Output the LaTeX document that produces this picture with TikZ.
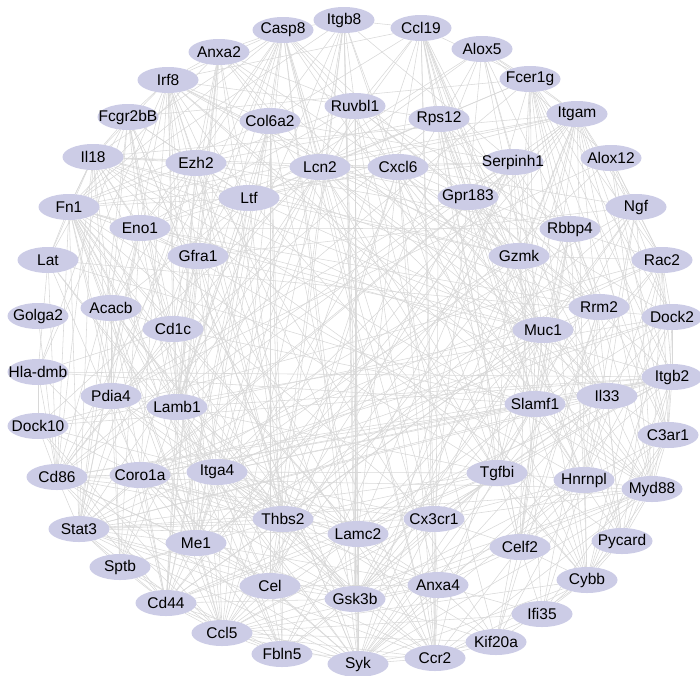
\documentclass[tikz,border=0pt]{standalone}
\usepackage{fontspec}
\setmainfont{Liberation Sans}
\usetikzlibrary{shapes.geometric,backgrounds}

\definecolor{genefill}{RGB}{204,204,230}
\definecolor{linkgray}{RGB}{216,216,216}
\newcommand{\gn}[1]{\makebox[0pt]{#1}}
\tikzset{
  gene/.style={ellipse, fill=genefill, minimum width=61pt, minimum height=26pt,
    inner sep=0pt, font=\fontsize{15.5}{18}\selectfont},
  link/.style={draw=linkgray, line width=0.55pt}
}

\begin{document}
\begin{tikzpicture}[x=1pt,y=-1pt]
  \useasboundingbox (0,0) rectangle (700,675);

  % outer ring, top
  \node[gene] (itgb8)    at (344,20)  {\gn{Itgb8}};
  \node[gene] (ccl19)    at (421,28)  {\gn{Ccl19}};
  \node[gene] (casp8)    at (283,30)  {\gn{Casp8}};
  \node[gene] (alox5)    at (482,49)  {\gn{Alox5}};
  \node[gene] (anxa2)    at (219,52)  {\gn{Anxa2}};
  \node[gene] (fcer1g)   at (530,79)  {\gn{Fcer1g}};
  \node[gene] (irf8)     at (168,80)  {\gn{Irf8}};
  \node[gene] (ruvbl1)   at (355,106) {\gn{Ruvbl1}};
  \node[gene] (col6a2)   at (270,121) {\gn{Col6a2}};
  \node[gene] (rps12)    at (439,119) {\gn{Rps12}};
  \node[gene] (itgam)    at (577,114) {\gn{Itgam}};
  \node[gene] (fcgr2bb)  at (128,117) {\gn{Fcgr2bB}};
  \node[gene] (il18)     at (93,157)  {\gn{Il18}};
  \node[gene] (ezh2)     at (196,163) {\gn{Ezh2}};
  \node[gene] (lcn2)     at (320,167) {\gn{Lcn2}};
  \node[gene] (cxcl6)    at (398,167) {\gn{Cxcl6}};
  \node[gene] (serpinh1) at (513,162) {\gn{Serpinh1}};
  \node[gene] (alox12)   at (611,158) {\gn{Alox12}};
  \node[gene] (ltf)      at (249,198) {\gn{Ltf}};
  \node[gene] (gpr183)   at (468,197) {\gn{Gpr183}};
  \node[gene] (fn1)      at (69,207)  {\gn{Fn1}};
  \node[gene] (eno1)     at (140,228) {\gn{Eno1}};
  \node[gene] (ngf)      at (636,207) {\gn{Ngf}};
  \node[gene] (rbbp4)    at (570,229) {\gn{Rbbp4}};
  \node[gene] (gfra1)    at (198,256) {\gn{Gfra1}};
  \node[gene] (gzmk)     at (519,256) {\gn{Gzmk}};
  \node[gene] (lat)      at (48,260)  {\gn{Lat}};
  \node[gene] (rac2)     at (662,260) {\gn{Rac2}};
  % middle band
  \node[gene] (golga2)   at (38,316)  {\gn{Golga2}};
  \node[gene] (acacb)    at (111,308) {\gn{Acacb}};
  \node[gene] (cd1c)     at (173,329) {\gn{Cd1c}};
  \node[gene] (rrm2)     at (599,307) {\gn{Rrm2}};
  \node[gene] (dock2)    at (672,317) {\gn{Dock2}};
  \node[gene] (muc1)     at (543,330) {\gn{Muc1}};
  \node[gene] (hladmb)   at (38,372)  {\gn{Hla-dmb}};
  \node[gene] (itgb2)    at (672,377) {\gn{Itgb2}};
  \node[gene] (pdia4)    at (111,396) {\gn{Pdia4}};
  \node[gene] (lamb1)    at (177,407) {\gn{Lamb1}};
  \node[gene] (slamf1)   at (535,404) {\gn{Slamf1}};
  \node[gene] (il33)     at (607,396) {\gn{Il33}};
  \node[gene] (dock10)   at (38,426)  {\gn{Dock10}};
  \node[gene] (c3ar1)    at (668,435) {\gn{C3ar1}};
  % lower half
  \node[gene] (cd86)     at (57,477)  {\gn{Cd86}};
  \node[gene] (coro1a)   at (140,475) {\gn{Coro1a}};
  \node[gene] (itga4)    at (217,472) {\gn{Itga4}};
  \node[gene] (tgfbi)    at (497,473) {\gn{Tgfbi}};
  \node[gene] (hnrnpl)   at (584,480) {\gn{Hnrnpl}};
  \node[gene] (myd88)    at (652,489) {\gn{Myd88}};
  \node[gene] (stat3)    at (79,529)  {\gn{Stat3}};
  \node[gene] (thbs2)    at (283,519) {\gn{Thbs2}};
  \node[gene] (lamc2)    at (358,534) {\gn{Lamc2}};
  \node[gene] (cx3cr1)   at (434,519) {\gn{Cx3cr1}};
  \node[gene] (me1)      at (196,543) {\gn{Me1}};
  \node[gene] (celf2)    at (520,547) {\gn{Celf2}};
  \node[gene] (pycard)   at (622,541) {\gn{Pycard}};
  \node[gene] (sptb)     at (120,567) {\gn{Sptb}};
  \node[gene] (cel)      at (270,586) {\gn{Cel}};
  \node[gene] (cybb)     at (587,580) {\gn{Cybb}};
  \node[gene] (cd44)     at (166,603) {\gn{Cd44}};
  \node[gene] (gsk3b)    at (355,599) {\gn{Gsk3b}};
  \node[gene] (anxa4)    at (438,585) {\gn{Anxa4}};
  \node[gene] (ifi35)    at (542,614) {\gn{Ifi35}};
  \node[gene] (ccl5)     at (222,633) {\gn{Ccl5}};
  \node[gene] (fbln5)    at (282,654) {\gn{Fbln5}};
  \node[gene] (syk)      at (358,664) {\gn{Syk}};
  \node[gene] (ccr2)     at (435,658) {\gn{Ccr2}};
  \node[gene] (kif20a)   at (496,642) {\gn{Kif20a}};

  % interactions
  \begin{scope}[on background layer]
  \foreach \t in {fcer1g,itgb2,cybb,syk,cd86,stat3,ccl5,cd44,ccr2,cx3cr1,myd88,c3ar1,rac2,dock2,ltf,lcn2,il18,fn1,coro1a,itga4,gzmk,pycard,ngf,alox5,celf2,tgfbi}
    \draw[link] (itgam) -- (\t);
  \foreach \t in {cybb,syk,cd86,ccl5,cd44,rac2,coro1a,itga4,fcer1g,dock2,myd88,c3ar1,hladmb,slamf1,il33,lamb1,fn1,stat3,casp8,tgfbi,pycard,dock10}
    \draw[link] (itgb2) -- (\t);
  \foreach \t in {stat3,ccl5,cd44,syk,itga4,coro1a,irf8,il18,fn1,hladmb,ccl19,casp8,cx3cr1,ccr2,myd88,slamf1,lat,cd1c,fcer1g,dock10,golga2,pdia4,thbs2,me1}
    \draw[link] (cd86) -- (\t);
  \foreach \t in {ccl5,cd44,syk,fn1,il18,casp8,ezh2,myd88,irf8,ccr2,cx3cr1,gsk3b,muc1,il33,tgfbi,ngf,lcn2,me1,sptb,acacb,eno1,fcgr2bb,cel,thbs2,lamc2,coro1a}
    \draw[link] (stat3) -- (\t);
  \foreach \t in {cd44,ccr2,cx3cr1,syk,ccl19,il18,myd88,casp8,fn1,itga4,coro1a,gzmk,slamf1,fcgr2bb,irf8,lcn2,cybb,thbs2,me1,anxa4,fbln5,cel,kif20a,ifi35}
    \draw[link] (ccl5) -- (\t);
  \foreach \t in {fn1,syk,itga4,muc1,tgfbi,thbs2,lamc2,lamb1,col6a2,gsk3b,sptb,me1,coro1a,anxa2,ezh2,fbln5,cel,acacb,gfra1,serpinh1,ltf}
    \draw[link] (cd44) -- (\t);
  \foreach \t in {fcer1g,cybb,ccr2,cx3cr1,itga4,coro1a,gsk3b,rac2,myd88,lat,fcgr2bb,casp8,irf8,dock2,slamf1,hnrnpl,anxa4,kif20a,lamc2,cel,ruvbl1}
    \draw[link] (syk) -- (\t);
  \foreach \t in {itga4,thbs2,col6a2,lamb1,lamc2,tgfbi,serpinh1,fbln5,eno1,il18,gsk3b,ltf,cx3cr1,muc1,casp8,anxa2,ezh2,gfra1,pdia4,acacb,cd1c,lat,me1}
    \draw[link] (fn1) -- (\t);
  \foreach \t in {cx3cr1,ccl19,il18,myd88,cybb,casp8,lcn2,cxcl6,itga4,irf8,anxa4,gsk3b,celf2,kif20a,ifi35,lamc2,fbln5,ruvbl1,rps12}
    \draw[link] (ccr2) -- (\t);
  \foreach \t in {ccl19,myd88,casp8,itga4,il33,tgfbi,celf2,anxa4,lamc2,gsk3b,cxcl6,gpr183,hnrnpl}
    \draw[link] (cx3cr1) -- (\t);
  \foreach \t in {il18,casp8,irf8,il33,pycard,cybb,fcer1g,c3ar1,rac2,ngf,lcn2,hnrnpl,celf2,muc1,slamf1,gsk3b}
    \draw[link] (myd88) -- (\t);
  \foreach \t in {rac2,fcer1g,dock2,pycard,c3ar1,lcn2,ltf,hnrnpl,celf2,ifi35,kif20a,cxcl6,alox5,rps12,tgfbi}
    \draw[link] (cybb) -- (\t);
  \foreach \t in {il18,pycard,irf8,itgb8,gsk3b,ezh2,ruvbl1,col6a2,lcn2,me1,eno1,anxa2,anxa4,lamb1,cd1c}
    \draw[link] (casp8) -- (\t);
  \foreach \t in {itgb8,cxcl6,gpr183,lcn2,il33,irf8,fcer1g,rps12,col6a2,gzmk,slamf1,muc1,tgfbi,pycard,hnrnpl,celf2}
    \draw[link] (ccl19) -- (\t);
  \foreach \t in {ruvbl1,col6a2,lcn2,itga4,tgfbi,fn1,thbs2,lamc2,gsk3b,cxcl6,serpinh1,lamb1,cel,syk}
    \draw[link] (itgb8) -- (\t);
  \foreach \t in {il18,fcgr2bb,anxa2,ltf,ezh2,col6a2,lcn2,ruvbl1,coro1a,gzmk,slamf1,cd1c,hladmb,lamb1,me1,gfra1,thbs2,rrm2}
    \draw[link] (irf8) -- (\t);
  \foreach \t in {il18,fcer1g,syk,ltf,eno1,ezh2,cd1c,gfra1,lat,acacb,lamb1,hladmb}
    \draw[link] (fcgr2bb) -- (\t);
  \foreach \t in {fn1,eno1,ezh2,ltf,lcn2,cxcl6,il33,pycard,gzmk,muc1,lat,acacb,cd1c,pdia4,gfra1}
    \draw[link] (il18) -- (\t);
  \foreach \t in {col6a2,ruvbl1,ezh2,ltf,lcn2,gfra1,cd1c,lamb1,me1,rrm2,muc1,thbs2}
    \draw[link] (anxa2) -- (\t);
  \foreach \t in {ltf,lamb1,lamc2,thbs2,tgfbi,serpinh1,itga4,fbln5,gfra1,cel}
    \draw[link] (col6a2) -- (\t);
  \foreach \t in {rps12,ezh2,rbbp4,rrm2,eno1,gsk3b,lamc2,hnrnpl,gpr183,me1,kif20a}
    \draw[link] (ruvbl1) -- (\t);
  \foreach \t in {eno1,rbbp4,ezh2,rrm2,hnrnpl,celf2,pdia4,muc1,gpr183}
    \draw[link] (rps12) -- (\t);
  \foreach \t in {rbbp4,rrm2,gsk3b,eno1,ltf,pdia4,kif20a,acacb,thbs2,lamb1}
    \draw[link] (ezh2) -- (\t);
  \foreach \t in {ltf,cxcl6,serpinh1,muc1,gzmk,il33,lamb1,me1,tgfbi,gpr183,dock10,sptb}
    \draw[link] (lcn2) -- (\t);
  \foreach \t in {ltf,gpr183,il33,muc1,serpinh1,lamc2,thbs2,gzmk,cel,ngf}
    \draw[link] (cxcl6) -- (\t);
  \foreach \t in {thbs2,tgfbi,lamb1,lamc2,muc1,gzmk,pdia4,rrm2,fbln5}
    \draw[link] (serpinh1) -- (\t);
  \foreach \t in {alox12,fcer1g,lcn2,ltf,gpr183,pycard,c3ar1,serpinh1,cel,me1}
    \draw[link] (alox5) -- (\t);
  \foreach \t in {ngf,rac2,me1,pdia4,c3ar1,dock2,myd88}
    \draw[link] (alox12) -- (\t);
  \foreach \t in {rac2,lcn2,il33,ltf,c3ar1,dock2,pycard,gzmk,slamf1,celf2}
    \draw[link] (fcer1g) -- (\t);
  \foreach \t in {gzmk,muc1,lamb1,thbs2,eno1,acacb,gfra1,sptb,me1}
    \draw[link] (ltf) -- (\t);
  \foreach \t in {muc1,slamf1,gzmk,tgfbi,dock2,rac2,il33,cel}
    \draw[link] (gpr183) -- (\t);
  \foreach \t in {rrm2,rbbp4,pdia4,acacb,me1,hnrnpl,gfra1,cd1c,sptb}
    \draw[link] (eno1) -- (\t);
  \foreach \t in {muc1,rac2,gfra1,il33,tgfbi,gsk3b,thbs2,hnrnpl}
    \draw[link] (ngf) -- (\t);
  \foreach \t in {rrm2,hnrnpl,gsk3b,celf2,kif20a,muc1,slamf1}
    \draw[link] (rbbp4) -- (\t);
  \foreach \t in {slamf1,il33,coro1a,rac2,gsk3b,itga4,ifi35}
    \draw[link] (gzmk) -- (\t);
  \foreach \t in {cd1c,lamb1,thbs2,itga4,lamc2,muc1,cel}
    \draw[link] (gfra1) -- (\t);
  \foreach \t in {coro1a,itga4,slamf1,hladmb,dock2}
    \draw[link] (lat) -- (\t);
  \foreach \t in {dock2,coro1a,itga4,c3ar1,slamf1,pycard,dock10,hnrnpl}
    \draw[link] (rac2) -- (\t);
  \foreach \t in {me1,pdia4,cd1c,lamb1,sptb,thbs2,gsk3b}
    \draw[link] (acacb) -- (\t);
  \foreach \t in {coro1a,slamf1,hladmb,itga4,lamb1,lamc2,me1}
    \draw[link] (cd1c) -- (\t);
  \foreach \t in {kif20a,hnrnpl,celf2,muc1,gsk3b,me1,ifi35}
    \draw[link] (rrm2) -- (\t);
  \foreach \t in {coro1a,dock10,c3ar1,itga4,hnrnpl,slamf1}
    \draw[link] (dock2) -- (\t);
  \foreach \t in {tgfbi,il33,lamb1,lamc2,slamf1,thbs2,gsk3b,me1,celf2}
    \draw[link] (muc1) -- (\t);
  \foreach \t in {coro1a,slamf1,dock10}
    \draw[link] (hladmb) -- (\t);
  \foreach \t in {me1,lamb1,thbs2,sptb,gsk3b,lamc2}
    \draw[link] (pdia4) -- (\t);
  \foreach \t in {lamc2,thbs2,itga4,tgfbi,fbln5,cel,gsk3b}
    \draw[link] (lamb1) -- (\t);
  \foreach \t in {coro1a,itga4,il33,tgfbi,celf2,hnrnpl}
    \draw[link] (slamf1) -- (\t);
  \foreach \t in {tgfbi,c3ar1,pycard,celf2,hnrnpl,lamc2}
    \draw[link] (il33) -- (\t);
  \foreach \t in {coro1a,itga4,cd44,ccl5}
    \draw[link] (dock10) -- (\t);
  \foreach \t in {pycard,celf2,hnrnpl,ifi35}
    \draw[link] (c3ar1) -- (\t);
  \foreach \t in {itga4,me1,thbs2,sptb,gsk3b,lamc2,anxa4,cel}
    \draw[link] (coro1a) -- (\t);
  \foreach \t in {thbs2,lamc2,tgfbi,me1,gsk3b,fbln5,cel,anxa4,kif20a}
    \draw[link] (itga4) -- (\t);
  \foreach \t in {thbs2,lamc2,fbln5,gsk3b,celf2,anxa4,hnrnpl}
    \draw[link] (tgfbi) -- (\t);
  \foreach \t in {celf2,kif20a,gsk3b,ifi35,anxa4}
    \draw[link] (hnrnpl) -- (\t);
  \foreach \t in {lamc2,fbln5,cel,gsk3b,sptb}
    \draw[link] (thbs2) -- (\t);
  \foreach \t in {fbln5,gsk3b,anxa4,cel}
    \draw[link] (lamc2) -- (\t);
  \foreach \t in {sptb,gsk3b,cel,anxa4,fbln5}
    \draw[link] (me1) -- (\t);
  \foreach \t in {kif20a,anxa4,ifi35,gsk3b}
    \draw[link] (celf2) -- (\t);
  \draw[link] (pycard) -- (ifi35);
  \draw[link] (sptb) -- (fbln5);
  \foreach \t in {gsk3b,anxa4,fbln5}
    \draw[link] (cel) -- (\t);
  \foreach \t in {anxa4,fbln5,kif20a}
    \draw[link] (gsk3b) -- (\t);
  \foreach \t in {kif20a,ifi35}
    \draw[link] (anxa4) -- (\t);
  \end{scope}
\end{tikzpicture}
\end{document}
